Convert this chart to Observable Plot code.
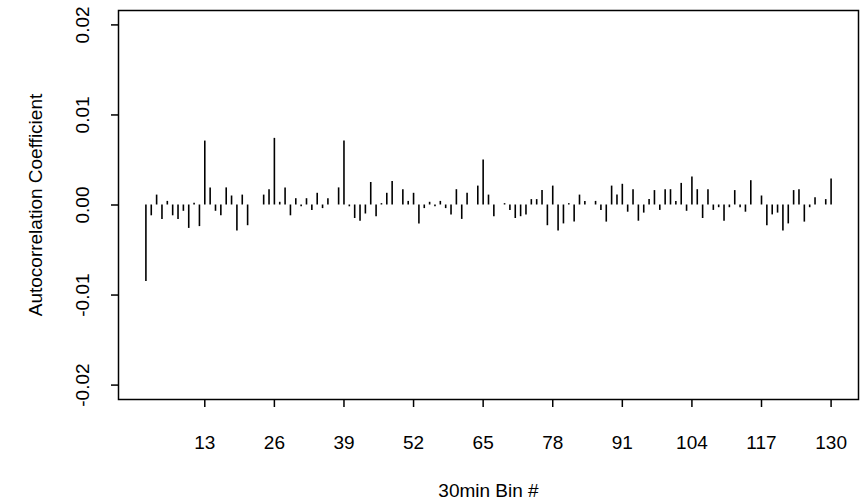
<!DOCTYPE html>
<html>
<head>
<meta charset="utf-8">
<script src="https://cdn.jsdelivr.net/npm/d3@7"></script>
<script src="https://cdn.jsdelivr.net/npm/@observablehq/plot@0.6"></script>
<style>
  body { margin: 0; background: #fff; }
  #chart { width: 865px; height: 500px; }
</style>
</head>
<body>
<div id="chart"></div>
<script>
// First lag plotted (bars run from lag 2 to lag 130)
const lagStart = 2;

// Autocorrelation coefficient for each 30-min bin lag (2..130)
const acf = [
  -0.0085, -0.0012, 0.0011, -0.0016, 0.0004, -0.0012, -0.0016, -0.0007, -0.0026, 0.0002,   // 2-11
  -0.0024, 0.0071, 0.0019, -0.0007, -0.0012, 0.0019, 0.0010, -0.0029, 0.0011, -0.0023,     // 12-21
  0, 0, 0.0011, 0.0017, 0.0074, 0.0003, 0.0019, -0.0012, 0.0007, -0.0002,                 // 22-31
  0.0007, -0.0006, 0.0013, -0.0004, 0.0007, 0, 0.0019, 0.0071, -0.0002, -0.0015,          // 32-41
  -0.0018, -0.0010, 0.0025, -0.0013, 0.00015, 0.0013, 0.0026, 0, 0.0017, 0.0004,          // 42-51
  0.0013, -0.0021, -0.0004, 0.0003, -0.0002, 0.0004, -0.0004, -0.0011, 0.0017, -0.0016,   // 52-61
  0.0013, 0, 0.0021, 0.0050, 0.0011, -0.0013, 0, 0.00015, -0.0006, -0.0015,              // 62-71
  -0.0013, -0.0011, 0.0006, 0.0006, 0.0016, -0.0023, 0.0021, -0.0029, -0.0021, 0.00015,   // 72-81
  -0.0019, 0.0011, 0.0004, 0, 0.0004, -0.0006, -0.0019, 0.0021, 0.0011, 0.0023,          // 82-91
  -0.0008, 0.0017, -0.0018, -0.0009, 0.0006, 0.0016, -0.0006, 0.0017, 0.0017, 0.0004,     // 92-101
  0.0024, -0.0007, 0.0031, 0.0017, -0.0015, 0.0017, -0.0006, -0.0003, -0.0018, -0.0003,   // 102-111
  0.0016, -0.0003, -0.0008, 0.0027, 0, 0.0010, -0.0023, -0.0011, -0.0009, -0.0029,       // 112-121
  -0.0021, 0.0016, 0.0017, -0.0019, -0.0003, 0.0008, 0, 0.0006, 0.0029                    // 122-130
];

const xTicks = [13, 26, 39, 52, 65, 78, 91, 104, 117, 130];
const yTicks = [-0.02, -0.01, 0, 0.01, 0.02];
const xLabel = "30min Bin #";
const yLabel = "Autocorrelation Coefficient";

const data = acf.map((v, i) => ({ lag: lagStart + i, acf: v }));

const font = "'Liberation Sans', Arial, Helvetica, sans-serif";

const chart = Plot.plot({
  width: 865,
  height: 500,
  marginTop: 10,
  marginBottom: 101,
  marginLeft: 118,
  marginRight: 7,
  style: { fontFamily: font, fontSize: "19px", background: "white", color: "black", overflow: "visible" },
  x: { domain: [-3.12, 135.12] },
  y: { domain: [-0.0216, 0.0216] },
  marks: [
    Plot.ruleX(data, { x: "lag", y1: 0, y2: "acf", stroke: "black", strokeWidth: 1.6 }),
    Plot.frame({ stroke: "black", strokeWidth: 1.5 }),
    Plot.axisX({
      ticks: xTicks, tickSize: 8, tickPadding: 28,
      tickFormat: d => String(d), label: null, strokeWidth: 1.5, fontSize: 19
    }),
    Plot.axisY({
      ticks: yTicks, tickSize: 7, tickPadding: 23, tickRotate: -90,
      textAnchor: "middle", lineAnchor: "bottom",
      tickFormat: d => d.toFixed(2), label: null, strokeWidth: 1.5, fontSize: 19
    }),
    Plot.text([xLabel], { frameAnchor: "bottom", dy: 91, lineAnchor: "middle", textAnchor: "middle", text: d => d, fontSize: 19 }),
    Plot.text([yLabel], { frameAnchor: "left", dx: -83, rotate: -90, textAnchor: "middle", lineAnchor: "middle", text: d => d, fontSize: 19 })
  ]
});

document.getElementById("chart").appendChild(chart);
</script>
</body>
</html>
